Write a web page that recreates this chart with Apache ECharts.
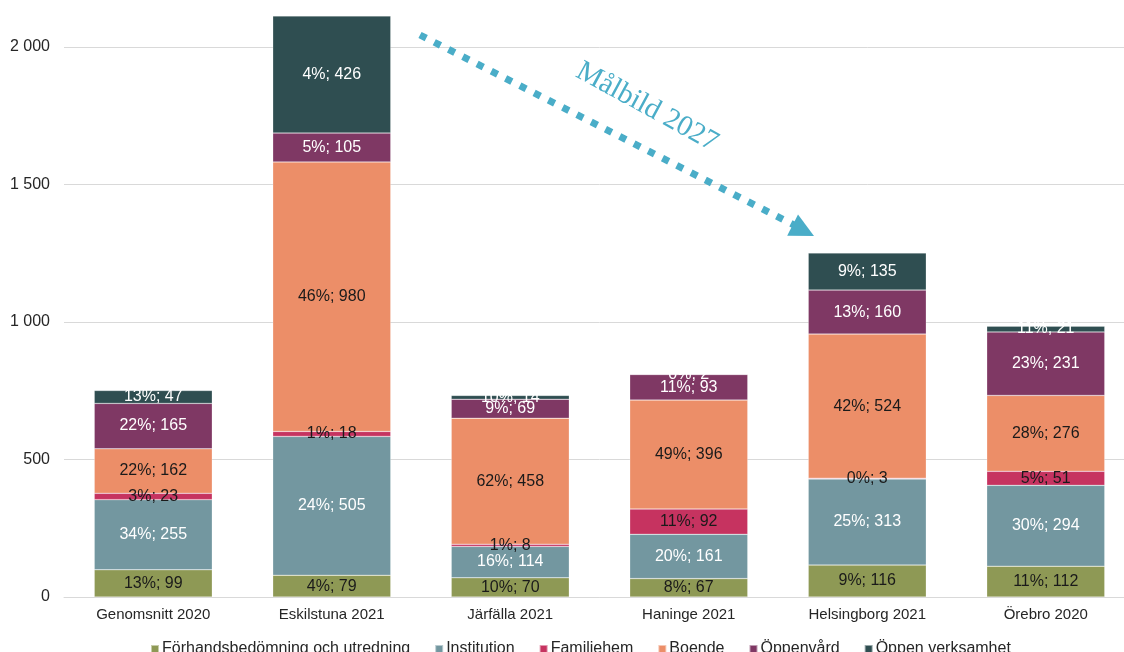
<!DOCTYPE html>
<html>
<head>
<meta charset="utf-8">
<script src="https://cdn.jsdelivr.net/npm/echarts@6/dist/echarts.min.js"></script>
<style>
  html, body { margin: 0; padding: 0; background: #fff; overflow: hidden; }
  #main { width: 1135px; height: 652px; }
</style>
</head>
<body>
<div id="main"></div>
<script>
// kategorier
var categories = ['Genomsnitt 2020', 'Eskilstuna 2021', 'Järfälla 2021', 'Haninge 2021', 'Helsingborg 2021', 'Örebro 2020'];

// värden per insatstyp
var forhand = [99, 79, 70, 67, 116, 112];
var institution = [255, 505, 114, 161, 313, 294];
var familjehem = [23, 18, 8, 92, 3, 51];
var boende = [162, 980, 458, 396, 524, 276];
var oppenvard = [165, 105, 69, 93, 160, 231];
var oppenVerks = [47, 426, 14, 2, 135, 21];

// procentetiketter som i originalet
var forhandPct = [13, 4, 10, 8, 9, 11];
var institutionPct = [34, 24, 16, 20, 25, 30];
var familjehemPct = [3, 1, 1, 11, 0, 5];
var boendePct = [22, 46, 62, 49, 42, 28];
var oppenvardPct = [22, 5, 9, 11, 13, 23];
var oppenVerksPct = [13, 4, 10, 0, 9, 11];

var yTicks = [0, 500, 1000, 1500, 2000];

function serie(name, data, pct, color, textColor) {
  return {
    name: name,
    type: 'bar',
    stack: 'total',
    barWidth: 118,
    clip: false,
    data: data,
    itemStyle: { color: color, borderColor: 'rgba(255,255,255,0.5)', borderWidth: 0.5 },
    label: {
      show: true,
      position: 'inside',
      color: textColor,
      fontSize: 16,
      fontFamily: 'Liberation Sans',
      formatter: function (p) { return pct[p.dataIndex] + '%; ' + p.value; }
    }
  };
}

var chart = echarts.init(document.getElementById('main'));
var arrowColor = '#4aadc8';
var x1 = 420, y1 = 35, x2 = 798, y2 = 227;
var ang = Math.atan2(y2 - y1, x2 - x1);

chart.setOption({
  animation: false,
  textStyle: { fontFamily: 'Liberation Sans' },
  grid: { left: 64, top: 47, right: 0, bottom: 55 },
  legend: {
    top: 636,
    left: 145,
    icon: 'rect',
    itemWidth: 8,
    itemHeight: 8,
    itemGap: 24,
    textStyle: { fontSize: 16, color: '#262626', padding: [0, 0, 0, -2] },
    data: ['Förhandsbedömning och utredning', 'Institution', 'Familjehem', 'Boende', 'Öppenvård', 'Öppen verksamhet']
  },
  xAxis: {
    type: 'category',
    data: categories,
    axisTick: { show: false },
    axisLine: { lineStyle: { color: '#d9d9d9', width: 1 } },
    axisLabel: { color: '#262626', fontSize: 15, margin: 10 }
  },
  yAxis: {
    type: 'value',
    min: yTicks[0],
    max: yTicks[yTicks.length - 1],
    interval: 500,
    axisLine: { show: false },
    axisTick: { show: false },
    splitLine: { lineStyle: { color: '#d9d9d9', width: 1 } },
    axisLabel: {
      color: '#262626',
      fontSize: 16,
      margin: 14,
      formatter: function (v) { return String(v).replace(/\B(?=(\d{3})+(?!\d))/g, ' '); }
    }
  },
  series: [
    serie('Förhandsbedömning och utredning', forhand, forhandPct, '#8e9955', '#1a1a1a'),
    serie('Institution', institution, institutionPct, '#7397a0', '#ffffff'),
    serie('Familjehem', familjehem, familjehemPct, '#c63360', '#1a1a1a'),
    serie('Boende', boende, boendePct, '#ec8e68', '#1a1a1a'),
    serie('Öppenvård', oppenvard, oppenvardPct, '#7f3864', '#ffffff'),
    serie('Öppen verksamhet', oppenVerks, oppenVerksPct, '#2f4e51', '#ffffff')
  ],
  graphic: [
    {
      type: 'line',
      shape: { x1: x1, y1: y1, x2: x2, y2: y2 },
      style: { stroke: arrowColor, lineWidth: 7, lineDash: [7, 9] },
      z: 100
    },
    {
      type: 'polygon',
      x: 814, y: 236,
      rotation: -ang,
      shape: { points: [[0, 0], [-24, -12], [-24, 12]] },
      style: { fill: arrowColor },
      z: 100
    },
    {
      type: 'text',
      x: 647, y: 107,
      rotation: -0.5,
      style: {
        text: 'Målbild 2027',
        fill: arrowColor,
        font: '29px "Liberation Serif", "DejaVu Serif", serif',
        textAlign: 'center',
        textVerticalAlign: 'middle'
      },
      z: 100
    }
  ]
});
</script>
</body>
</html>
